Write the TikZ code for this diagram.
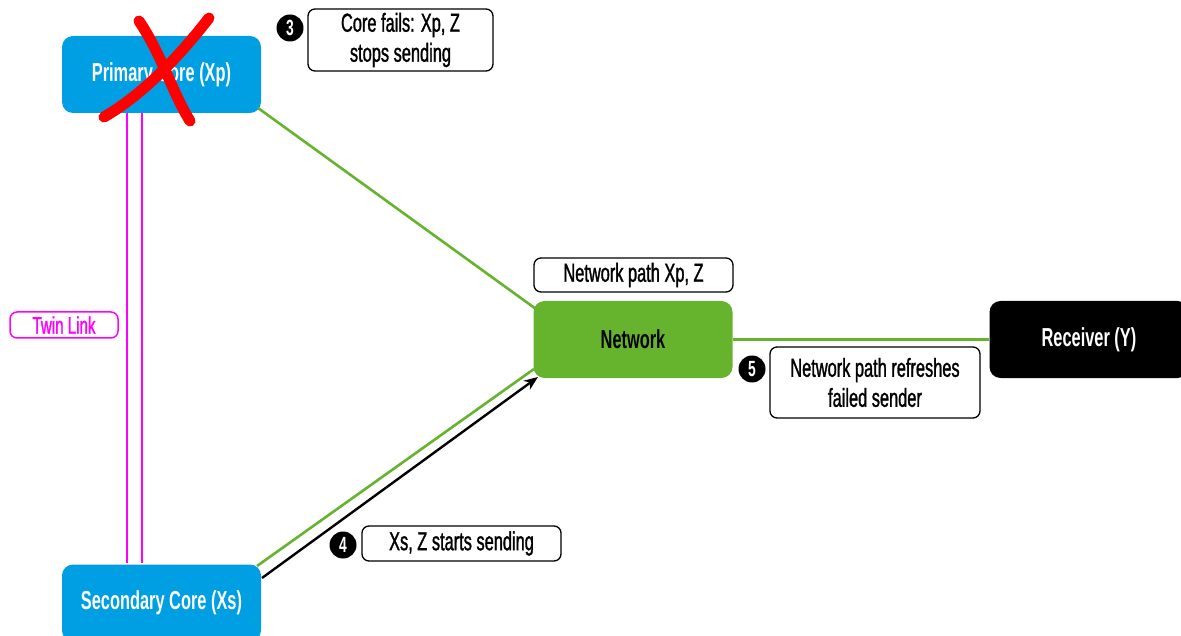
\documentclass[tikz,border=0pt]{standalone}
\usepackage{fontspec}
\setmainfont[FakeStretch=0.63]{Liberation Sans}
\newfontfamily\notefont[FakeStretch=0.63,FakeBold=1.2]{Liberation Sans}
\usetikzlibrary{arrows.meta}
\definecolor{coreblue}{HTML}{009FE3}
\definecolor{netgreen}{HTML}{66B32E}
\definecolor{twinpink}{HTML}{FF00FF}
\definecolor{failred}{HTML}{FF0000}
\begin{document}
\begin{tikzpicture}[x=1pt,y=-1pt,
  box/.style={rounded corners=11pt, minimum width=199pt, minimum height=77pt,
    inner sep=0pt, font=\fontsize{26}{30}\selectfont\bfseries},
  core/.style={box, fill=coreblue, text=white},
  note/.style={draw=black, line width=1.3pt, rounded corners=7pt, fill=white,
    inner sep=0pt, align=center, font=\notefont\fontsize{26}{30}\selectfont},
  badge/.style={circle, fill=black, text=white, minimum size=27pt, inner sep=0pt,
    font=\fontsize{22}{22}\selectfont\bfseries},
  path/.style={draw=netgreen, line width=2.6pt},
  twin/.style={draw=twinpink, line width=2pt}]
\useasboundingbox (0,0) rectangle (1181,636);

% main boxes
\node[core] (xp) at (161.5,74.5) {Primary Core (Xp)};
\node[core] (xs) at (161.5,603) {Secondary Core (Xs)};
\node[box, fill=netgreen, text=black] (net) at (633,339.5) {Network};
\node[box, fill=black, text=white] (rx) at (1089,339.5) {Receiver (Y)};

% twin link between the cores
\coordinate (ta) at (127,113); \coordinate (tb) at (127,563);
\coordinate (tc) at (142,113); \coordinate (td) at (142,563);
\draw[twin] (ta) -- (tb);
\draw[twin] (tc) -- (td);
\node[draw=twinpink, line width=1.5pt, rounded corners=7pt, text=twinpink,
  minimum width=108pt, minimum height=26pt, inner sep=0pt,
  font=\notefont\fontsize{24}{26}\selectfont] (tl) at (64,325) {Twin Link};

% network paths
\coordinate (p1) at (258,108); \coordinate (p2) at (536,309);
\coordinate (s1) at (257,566); \coordinate (s2) at (534,369);
\coordinate (a1) at (262,578); \coordinate (a2) at (538,377);
\coordinate (n1) at (733,339.5); \coordinate (r1) at (989,339.5);
\draw[path] (p1) -- (p2);
\draw[path] (s1) -- (s2);
\draw[path] (n1) -- (r1);
\draw[line width=2.4pt, -{Stealth[length=14pt,width=11pt]}] (a1) -- (a2);

% failure cross over the primary core
\coordinate (x1) at (139,21); \coordinate (x2) at (190,121);
\coordinate (x3) at (209,18); \coordinate (x4) at (104,117);
\draw[failred, line width=11pt, line cap=round] (x1) .. controls (162,55) and (172,92) .. (x2);
\draw[failred, line width=11pt, line cap=round] (x3) .. controls (178,58) and (142,95) .. (x4);

% annotations
\node[note, minimum width=185pt, minimum height=62pt] (n3) at (400.5,40) {Core fails: Xp, Z\\stops sending};
\node[badge] (b3) at (290,28) {3};
\node[note, minimum width=199pt, minimum height=34pt] (np) at (633.5,275) {Network path Xp, Z};
\node[note, minimum width=210pt, minimum height=71pt] (n5) at (875,382.5) {Network path refreshes\\failed sender};
\node[badge] (b5) at (752,369) {5};
\node[note, minimum width=199pt, minimum height=35pt] (n4) at (461.5,543.5) {Xs, Z starts sending};
\node[badge] (b4) at (343,545) {4};
\end{tikzpicture}
\end{document}
